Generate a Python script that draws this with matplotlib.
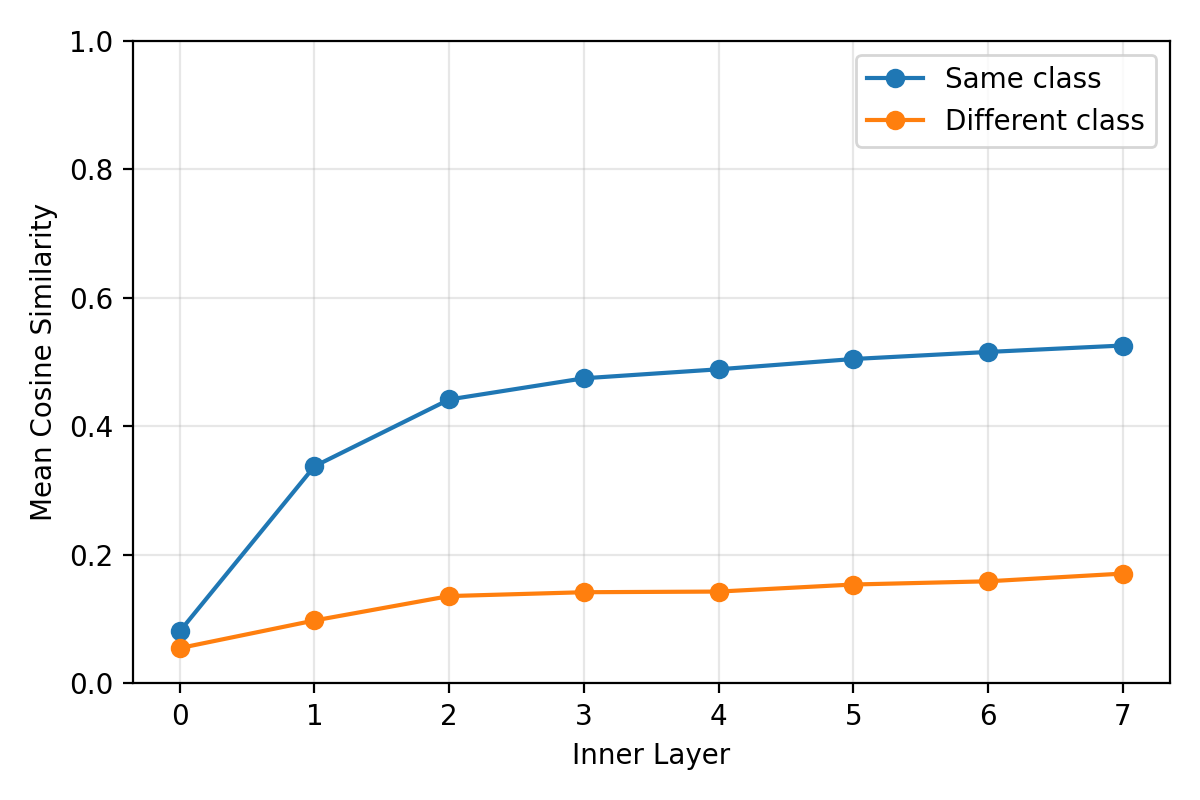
import matplotlib

matplotlib.use("Agg")
import matplotlib.pyplot as plt

layers = [0, 1, 2, 3, 4, 5, 6, 7]
same_class = [0.081, 0.338, 0.442, 0.475, 0.489, 0.505, 0.516, 0.526]
diff_class = [0.055, 0.098, 0.136, 0.142, 0.143, 0.154, 0.159, 0.171]

fig, ax = plt.subplots(figsize=(6, 4))
ax.plot(layers, same_class, marker="o", label="Same class")
ax.plot(layers, diff_class, marker="o", label="Different class")
ax.set_xlabel("Inner Layer")
ax.set_ylabel("Mean Cosine Similarity")
ax.set_ylim(0, 1)
ax.set_xticks(layers)
ax.grid(alpha=0.3)
ax.legend(loc="upper right")
fig.tight_layout()
fig.savefig("out.png", dpi=200)
plt.close(fig)
